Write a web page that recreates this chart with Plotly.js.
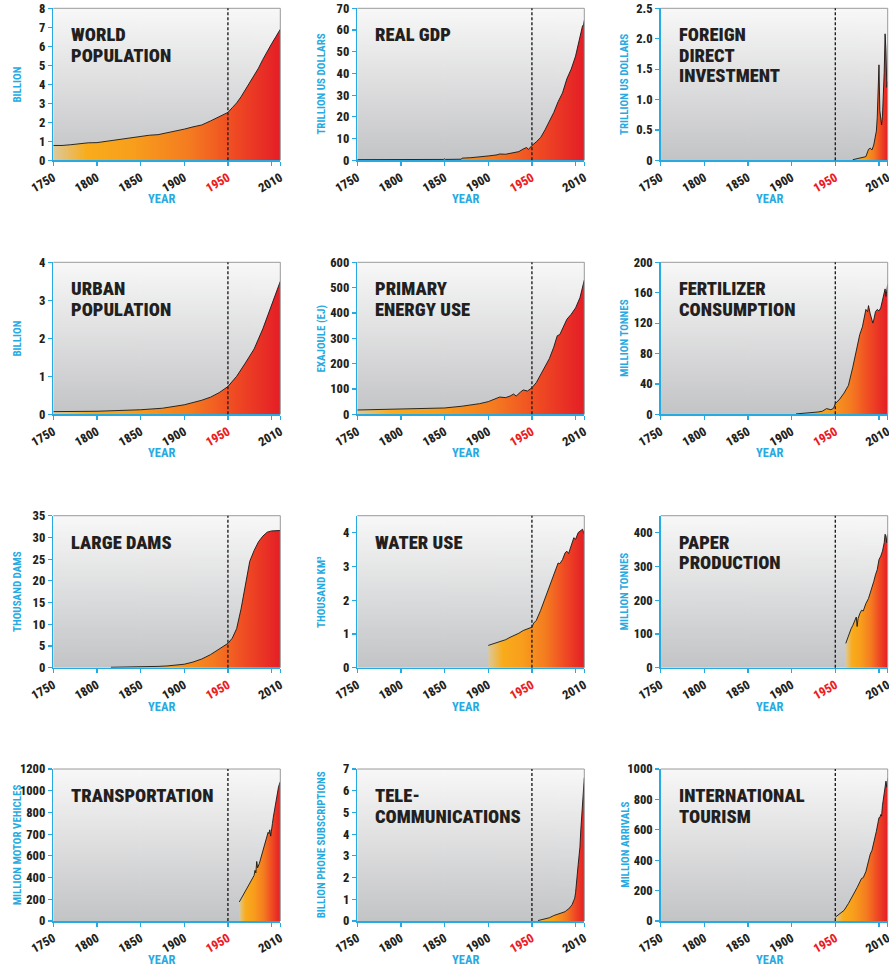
<!DOCTYPE html>
<html><head><meta charset="utf-8">
<script src="https://cdn.plot.ly/plotly-3.0.1.min.js"></script>
<style>html,body{margin:0;padding:0;background:#fff}#chart{width:889px;height:968px}</style>
</head><body><div id="chart"></div>
<script>
// ---------- data ----------
const xTickVals = [1750, 1800, 1850, 1900, 1950, 2000, 2010];
const xTickText = ['1750', '1800', '1850', '1900', '1950', '', '2010'];
const xTitleText = 'YEAR';

const worldPopYears = [1750,1760,1770,1780,1790,1800,1810,1820,1830,1840,1850,1860,1870,1880,1890,1900,1910,1920,1930,1940,1950,1955,1960,1965,1970,1975,1980,1985,1990,1995,2000,2005,2010];
const worldPopValues = [0.78,0.78,0.82,0.87,0.92,0.93,1.0,1.04,1.12,1.2,1.26,1.32,1.35,1.44,1.53,1.64,1.76,1.86,2.07,2.3,2.52,2.77,3.02,3.34,3.7,4.07,4.44,4.85,5.31,5.74,6.13,6.51,6.9];

const gdpYears = [1750,1800,1849,1850,1851,1869,1870,1880,1890,1900,1910,1913,1920,1925,1930,1935,1940,1944,1946,1950,1955,1960,1965,1970,1975,1980,1985,1990,1995,2000,2005,2008,2009,2010];
const gdpValues = [0.3,0.3,0.4,0.7,0.4,0.5,1.0,1.2,1.5,2.0,2.5,2.9,2.8,3.2,3.8,4.0,5.2,5.9,5.0,6.8,8.5,10.5,14,18,22,27,31,37.5,42,48,56,62,62,64.5];

const fdiYears = [1970,1975,1980,1983,1985,1987,1988,1990,1992,1994,1995,1996,1997,1998,1999,2000,2001,2002,2003,2004,2005,2006,2007,2008,2009,2010];
const fdiValues = [0.01,0.03,0.05,0.06,0.06,0.14,0.18,0.2,0.17,0.25,0.33,0.39,0.48,0.7,1.1,1.57,0.82,0.62,0.58,0.72,0.98,1.45,2.08,1.8,1.2,1.3];

const urbanYears = [1750,1800,1850,1875,1900,1910,1920,1930,1940,1950,1960,1970,1980,1990,2000,2010];
const urbanValues = [0.07,0.08,0.12,0.16,0.25,0.3,0.37,0.45,0.57,0.73,1.0,1.35,1.72,2.25,2.85,3.5];

const energyYears = [1750,1800,1850,1870,1880,1890,1900,1910,1913,1920,1925,1929,1932,1937,1940,1945,1950,1955,1960,1965,1970,1975,1979,1982,1985,1990,1995,2000,2005,2010];
const energyValues = [17,20,25,32,37,42,50,62,68,66,72,80,72,88,96,92,105,125,155,185,220,265,310,315,340,375,395,420,460,530];

const fertYears = [1905,1920,1930,1935,1940,1945,1948,1950,1955,1960,1965,1970,1975,1978,1981,1983,1985,1987,1988,1990,1992,1993,1994,1996,1998,2000,2002,2004,2006,2007,2008,2009,2010];
const fertValues = [0.5,1.5,3,4,7.5,6,8,14,20,28,38,62,90,105,115,128,138,135,143,132,122,120,124,135,138,136,140,150,158,165,155,162,171];

const damsYears = [1816,1850,1870,1880,1900,1910,1920,1930,1940,1950,1955,1960,1965,1970,1975,1980,1985,1990,1995,2000,2005,2010];
const damsValues = [0.1,0.15,0.3,0.4,0.8,1.3,2.0,3.0,4.3,5.6,6.8,9.0,13.5,19.5,24.5,27,29,30.3,31.2,31.5,31.6,31.6];

const waterYears = [1900,1905,1910,1915,1920,1925,1930,1935,1940,1945,1950,1952,1955,1960,1965,1970,1975,1980,1982,1985,1988,1990,1992,1995,1998,2000,2003,2008,2010];
const waterValues = [0.66,0.7,0.74,0.78,0.83,0.9,0.95,1.02,1.1,1.15,1.2,1.32,1.4,1.7,2.05,2.4,2.75,3.1,3.08,3.2,3.4,3.45,3.38,3.6,3.85,3.8,4.0,4.1,3.95];

const paperYears = [1962,1965,1968,1970,1972,1974,1975,1976,1978,1980,1982,1985,1988,1990,1992,1994,1996,1998,2000,2002,2004,2006,2007,2008,2009,2010];
const paperValues = [72,95,115,125,140,150,122,145,160,170,168,190,205,220,235,255,275,290,320,330,345,370,395,390,370,395];

const transportYears = [1963,1966,1969,1972,1975,1978,1980,1981,1982,1983,1984,1986,1988,1990,1992,1994,1995,1996,1997,1998,1999,2000,2001,2002,2003,2004,2005,2006,2007,2008,2009,2010];
const transportValues = [150,185,225,260,300,335,360,400,380,470,420,455,500,560,600,640,660,700,690,720,670,740,770,820,860,900,950,990,1040,1060,1080,1100];
const transportTickText = ['0','200','400','600','700','800','1000','1200'];

const telecomYears = [1957,1960,1965,1970,1975,1980,1985,1988,1990,1992,1994,1996,1998,1999,2000,2001,2002,2003,2004,2005,2006,2007,2008,2009,2010];
const telecomValues = [0.02,0.05,0.1,0.15,0.25,0.33,0.38,0.43,0.5,0.55,0.65,0.75,0.95,1.05,1.3,1.9,2.3,2.6,3.0,3.4,4.2,4.8,5.5,6.0,6.6];

const tourismYears = [1950,1955,1960,1965,1970,1975,1980,1982,1985,1987,1990,1992,1995,1997,2000,2001,2002,2003,2004,2005,2006,2007,2008,2009,2010];
const tourismValues = [25,45,70,115,165,220,280,285,325,380,440,465,530,590,680,680,700,690,760,800,845,900,920,880,940];

const chartTitles = [
  ['WORLD','POPULATION'], ['REAL GDP'], ['FOREIGN','DIRECT','INVESTMENT'],
  ['URBAN','POPULATION'], ['PRIMARY','ENERGY USE'], ['FERTILIZER','CONSUMPTION'],
  ['LARGE DAMS'], ['WATER USE'], ['PAPER','PRODUCTION'],
  ['TRANSPORTATION'], ['TELE-','COMMUNICATIONS'], ['INTERNATIONAL','TOURISM']
];
const yTitles = ['BILLION','TRILLION US DOLLARS','TRILLION US DOLLARS',
  'BILLION','EXAJOULE (EJ)','MILLION TONNES',
  'THOUSAND DAMS','THOUSAND KM³','MILLION TONNES',
  'MILLION MOTOR VEHICLES','BILLION PHONE SUBSCRIPTIONS','MILLION ARRIVALS'];

const seriesX = [worldPopYears,gdpYears,fdiYears,urbanYears,energyYears,fertYears,damsYears,waterYears,paperYears,transportYears,telecomYears,tourismYears];
const seriesY = [worldPopValues,gdpValues,fdiValues,urbanValues,energyValues,fertValues,damsValues,waterValues,paperValues,transportValues,telecomValues,tourismValues];

// ---------- axis settings ----------
const yRanges = [8,70,2.5,4,600,200,35,4.5,450,1200,7,1000];
function yTicks(i){
  switch(i){
    case 0: return {v:[0,1,2,3,4,5,6,7,8]};
    case 1: return {v:[0,10,20,30,40,50,60,70]};
    case 2: return {v:[0,0.5,1,1.5,2,2.5], t:['0','0.5','1.0','1.5','2.0','2.5']};
    case 3: return {v:[0,1,2,3,4]};
    case 4: return {v:[0,100,200,300,400,500,600]};
    case 5: return {v:[0,40,80,120,160,200]};
    case 6: return {v:[0,5,10,15,20,25,30,35]};
    case 7: return {v:[0,1,2,3,4]};
    case 8: return {v:[0,100,200,300,400]};
    case 9: return {v:transportTickText.map((_,k)=>k*1200/7), t:transportTickText};
    case 10: return {v:[0,1,2,3,4,5,6,7]};
    case 11: return {v:[0,200,400,600,800,1000]};
  }
}

const FONT = '"Roboto Condensed","Open Sans Condensed",sans-serif';
const CYAN = '#27aae1';
const INK = '#231f20';
const RED = '#ec1c24';
const fillScale = [[0,'#dbc99c'],[0.15,'#f9ac1b'],[0.35,'#f89e1c'],[0.6,'#f47b20'],[0.78,'#f04e23'],[1,'#e41e26']];

const W = 889, H = 968;
const colLeft = [53.3, 357.3, 660.7];
const plotW = 227;
const rowTop = [8.3, 262.3, 515.7, 769];
const plotH = 152;

function bgGradient(){
  const c = document.createElement('canvas'); c.width = 4; c.height = 256;
  const g = c.getContext('2d');
  const gr = g.createLinearGradient(0,0,0,256);
  gr.addColorStop(0,'#f8f8f8'); gr.addColorStop(1,'#c3c4c6');
  g.fillStyle = gr; g.fillRect(0,0,4,256);
  return c.toDataURL('image/png');
}
const bg = bgGradient();

const traces = [];
const layout = {
  width: W, height: H, margin:{l:0,r:0,t:0,b:0},
  paper_bgcolor:'#ffffff', plot_bgcolor:'rgba(0,0,0,0)', showlegend:false,
  font:{family:FONT, color:INK, weight:'bold'},
  shapes:[], annotations:[], images:[]
};

const xText = xTickText.map(t => t === '1950' ? '<span style="color:'+RED+'">1950</span>' : t);

for (let i = 0; i < 12; i++){
  const r = Math.floor(i/3), c = i%3, n = i+1;
  const xid = n===1 ? 'x' : 'x'+n, yid = n===1 ? 'y' : 'y'+n;
  const xk = n===1 ? 'xaxis' : 'xaxis'+n, yk = n===1 ? 'yaxis' : 'yaxis'+n;
  const x0 = colLeft[c]/W, x1 = (colLeft[c]+plotW)/W;
  const y1 = 1 - rowTop[r]/H, y0 = 1 - (rowTop[r]+plotH)/H;
  const yt = yTicks(i);
  layout[xk] = {
    domain:[x0,x1], anchor:yid, range:[1750,2010], tickmode:'array',
    tickvals:xTickVals, ticktext:xText, tickangle:-30, ticklabeloverflow:'allow',
    showline:true, linecolor:CYAN, linewidth:1.5, ticks:'outside', tickcolor:CYAN, ticklen:4, tickwidth:1.2,
    showgrid:false, zeroline:false, fixedrange:true,
    tickfont:{family:FONT, size:12.5, color:INK, weight:800}
  };
  layout[yk] = {
    domain:[y0,y1], anchor:xid, range:[0,yRanges[i]], tickmode:'array',
    tickvals:yt.v, ticktext:yt.t || yt.v.map(String),
    showline:true, linecolor:CYAN, linewidth:1.5, ticks:'outside', tickcolor:CYAN, ticklen:4, tickwidth:1.2,
    showgrid:false, zeroline:false, fixedrange:true,
    tickfont:{family:FONT, size:12.5, color:INK, weight:800}
  };
  layout.images.push({source:bg, xref:xid+' domain', yref:yid+' domain', x:0, y:1, sizex:1, sizey:1,
    xanchor:'left', yanchor:'top', sizing:'stretch', layer:'below'});
  const xs = seriesX[i], ys = seriesY[i];
  traces.push({
    type:'scatter', mode:'lines', x:xs, y:ys, xaxis:xid, yaxis:yid,
    fill:'tozeroy', fillgradient:{type:'horizontal', start:xs[0], stop:2010, colorscale:fillScale},
    line:{color:'#161616', width:0.9}, hoverinfo:'skip'
  });
  layout.shapes.push({type:'line', xref:xid+' domain', yref:yid+' domain', x0:0, x1:1, y0:1, y1:1, line:{color:'#9a9a9a', width:1}});
  layout.shapes.push({type:'line', xref:xid+' domain', yref:yid+' domain', x0:1, x1:1, y0:0, y1:1, line:{color:'#9a9a9a', width:1}});
  layout.shapes.push({type:'line', xref:xid, yref:yid+' domain', x0:1950, x1:1950, y0:0, y1:1, line:{color:INK, width:1.4, dash:'3px,2px'}});
  chartTitles[i].forEach((line, k) => {
    layout.annotations.push({text:line, xref:xid+' domain', yref:yid+' domain', x:0, y:1, xanchor:'left', yanchor:'top',
      xshift:16, yshift:-14 - k*20.6, showarrow:false, font:{family:FONT, size:18.5, color:INK, weight:900}});
  });
  layout.annotations.push({text:yTitles[i], xref:xid+' domain', yref:yid+' domain', x:0, y:0.5, xanchor:'center', yanchor:'middle',
    xshift:-36, textangle:-90, showarrow:false, font:{family:FONT, size:11, color:CYAN, weight:'bold'}});
  layout.annotations.push({text:xTitleText, xref:xid+' domain', yref:yid+' domain', x:0.5, y:0, xanchor:'center', yanchor:'middle',
    xshift:-5, yshift:-38.5, showarrow:false, font:{family:FONT, size:12.5, color:CYAN, weight:'bold'}});
}

Plotly.newPlot('chart', traces, layout, {displayModeBar:false, staticPlot:true});
</script>
</body></html>
